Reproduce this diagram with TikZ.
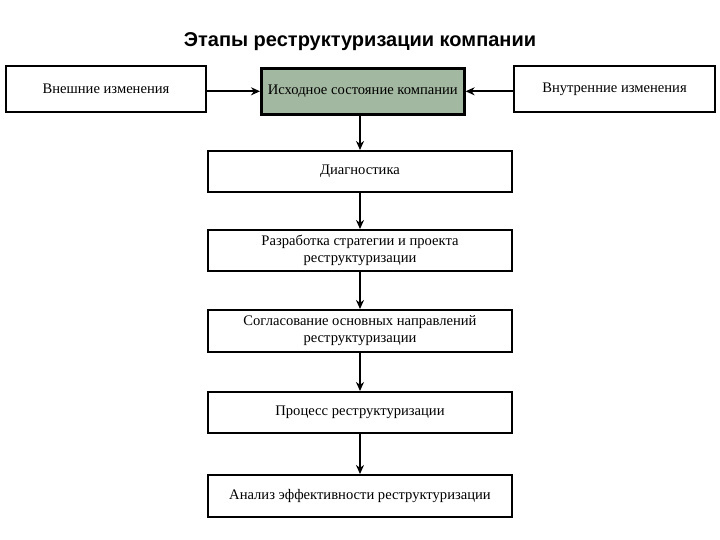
\documentclass[tikz,border=0pt]{standalone}
\usepackage{fontspec}
\setmainfont{Liberation Serif}
\newfontfamily\titlefont{Liberation Sans}
\usetikzlibrary{arrows.meta}
\definecolor{boxgreen}{HTML}{A3B8A0}
\begin{document}
\begin{tikzpicture}[x=1pt,y=-1pt,
  box/.style={draw=black,line width=2pt,fill=white,anchor=north west,inner sep=0pt,align=center,font=\fontsize{14.6}{17}\selectfont},
  arr/.style={-{Stealth[length=9pt,width=8pt]},line width=2.2pt}]
\useasboundingbox (0,0) rectangle (720,540);
\node[font=\titlefont\bfseries\fontsize{20}{23}\selectfont] (title) at (360,42) {Этапы реструктуризации компании};
\node[box,minimum width=200pt,minimum height=46pt] (ext) at (5,65) {Внешние изменения};
\node[box,fill=boxgreen,line width=2.6pt,minimum width=203pt,minimum height=46pt] (init) at (260,67) {Исходное состояние компании};
\node[box,minimum width=201pt,minimum height=46pt] (int) at (513,65) {Внутренние изменения};
\node[box,minimum width=304pt,minimum height=41pt] (diag) at (207,150) {Диагностика};
\node[box,minimum width=304pt,minimum height=41pt] (strat) at (207,229) {Разработка стратегии и проекта\\реструктуризации};
\node[box,minimum width=304pt,minimum height=42pt] (agree) at (207,309) {Согласование основных направлений\\реструктуризации};
\node[box,minimum width=304pt,minimum height=41pt] (proc) at (207,391) {Процесс реструктуризации};
\node[box,minimum width=304pt,minimum height=42pt] (anal) at (207,474) {Анализ эффективности реструктуризации};
\draw[arr] (ext.east |- init) -- (init);
\draw[arr] (int.west |- init) -- (init);
\draw[arr] (init.south -| diag) -- (diag);
\draw[arr] (diag) -- (strat);
\draw[arr] (strat) -- (agree);
\draw[arr] (agree) -- (proc);
\draw[arr] (proc) -- (anal);
\end{tikzpicture}
\end{document}
